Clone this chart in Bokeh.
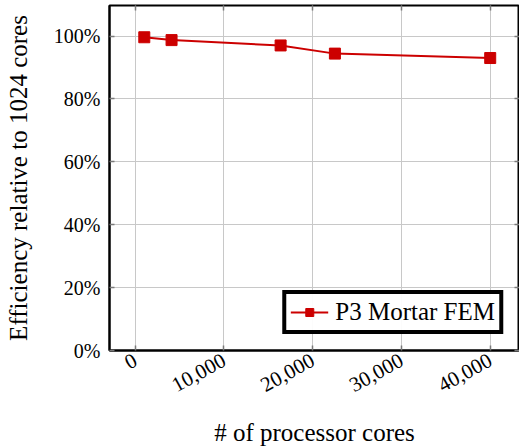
import math
from bokeh.plotting import figure
from bokeh.models import Range1d, LinearAxis, FixedTicker, PrintfTickFormatter, NumeralTickFormatter, Legend, LegendItem
from bokeh.embed import file_html
from bokeh.resources import INLINE

cores = [1024, 4096, 16384, 22500, 40000]
efficiency = [99.6, 98.7, 97.0, 94.4, 93.0]
series_name = "P3 Mortar FEM"
x_ticks = [0, 10000, 20000, 30000, 40000]
y_ticks = [0, 20, 40, 60, 80, 100]

FONT = "Liberation Serif"
RED = "#cc0000"

p = figure(frame_width=410, frame_height=345, output_backend="svg", toolbar_location=None,
           x_range=Range1d(-2896, 43300), y_range=Range1d(0, 109.7),
           min_border_left=109, min_border_right=0, min_border_top=5, min_border_bottom=88)

p.outline_line_color = "black"
p.outline_line_width = 2

ln = p.line(cores, efficiency, line_color=RED, line_width=2)
mk = p.scatter(cores, efficiency, marker="square", size=11, fill_color=RED, line_color=RED)

# axes
xa = p.xaxis[0]
xa.ticker = FixedTicker(ticks=x_ticks)
xa.formatter = NumeralTickFormatter(format="0,0")
xa.major_label_orientation = math.radians(29)
xa.axis_label = "# of processor cores"
ya = p.yaxis[0]
ya.ticker = FixedTicker(ticks=y_ticks)
ya.formatter = PrintfTickFormatter(format="%d%%")
ya.axis_label = "Efficiency relative to 1024 cores"
for ax in (xa, ya):
    ax.axis_line_color = "black"
    ax.axis_line_width = 2
    ax.major_tick_in = 5
    ax.major_tick_out = 0
    ax.minor_tick_line_color = None
    ax.major_tick_line_color = "#7a7a7a"
    ax.major_tick_line_width = 1.5
    ax.major_label_text_font = FONT
    ax.major_label_text_font_size = "20px"
    ax.major_label_text_color = "black"
    ax.axis_label_text_font = FONT
    ax.axis_label_text_font_size = "25px"
    ax.axis_label_text_font_style = "normal"
    ax.axis_label_text_color = "black"
xa.major_label_text_font_size = "21px"
ya.major_label_standoff = 9
xa.major_label_standoff = 8
xa.axis_label_standoff = 17
ya.axis_label_standoff = 19

# top / right tick-only axes (no labels)
def tick_axis(ticks):
    return LinearAxis(ticker=FixedTicker(ticks=ticks), major_label_text_font_size="0px",
                      major_label_text_color=None, major_label_standoff=0,
                      axis_line_color=None, major_tick_in=5, major_tick_out=0,
                      major_tick_line_color="#7a7a7a", major_tick_line_width=1.5,
                      minor_tick_line_color=None)
p.add_layout(tick_axis(x_ticks), "above")
p.add_layout(tick_axis(y_ticks), "right")

p.xgrid.ticker = FixedTicker(ticks=x_ticks)
p.ygrid.ticker = FixedTicker(ticks=y_ticks)
for g in (p.xgrid[0], p.ygrid[0]):
    g.grid_line_color = "#c8c8c8"
    g.grid_line_width = 1

legend = Legend(items=[LegendItem(label=series_name, renderers=[ln, mk])],
                location="bottom_right")
legend.border_line_color = "black"
legend.border_line_alpha = 1.0
legend.border_line_width = 4
legend.label_text_font = FONT
legend.label_text_font_size = "25px"
legend.label_text_color = "black"
legend.margin = 16
legend.padding = 4
legend.glyph_width = 38
legend.label_standoff = 7
legend.spacing = 0
p.add_layout(legend)

open("out.html", "w").write(file_html(p, INLINE))
